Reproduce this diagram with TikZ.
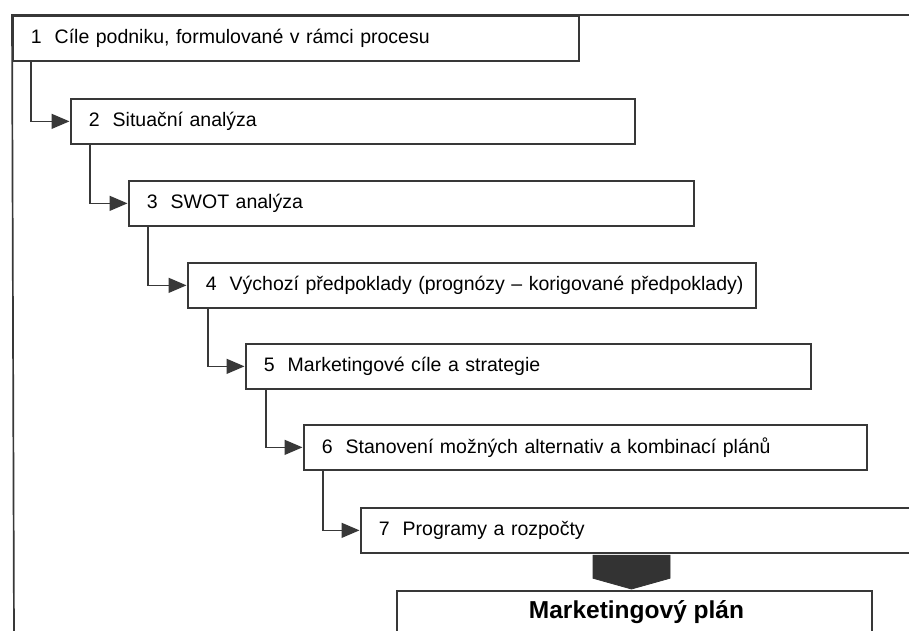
\documentclass[tikz,border=0pt]{standalone}
\usepackage{fontspec}
\setmainfont{Liberation Sans}
\usetikzlibrary{calc,arrows.meta}
\hfuzz=30pt
\begin{document}
\begin{tikzpicture}[x=1pt,y=-1pt,
  ink/.style={draw=black!78, line width=1.7pt},
  stepbox/.style={ink, rectangle, anchor=north west, minimum height=45pt,
    inner xsep=18pt, inner ysep=0pt, align=left, font=\fontsize{19.5}{22}\selectfont},
  conn/.style={ink, line width=1.5pt, -{Triangle[length=18pt,width=15pt]}, shorten >=0.5pt},
  blockarrow/.style={fill=black!80, draw=black!80, line width=0.8pt, line join=miter}]
  \useasboundingbox (0,0) rectangle (909,630);
  \clip (0,0) rectangle (909,630);
  \fill[white] (0,0) rectangle (909,630);

  % outer frame: rule along the top and down the left side
  \coordinate (frameTL) at (12,15);
  \coordinate (frameTR) at (915,15);
  \coordinate (frameBL) at (14,640);
  \draw[ink] (frameTR) -- (frameTL) -- (frameBL);

  % the seven steps of the plan
  \node[stepbox, text width=530pt] (b1) at (12,15)  {\mbox{1\hspace{13pt}Cíle podniku, formulované v rámci procesu}};
  \node[stepbox, text width=528pt] (b2) at (70,98)  {\mbox{2\hspace{13pt}Situační analýza}};
  \node[stepbox, text width=529pt] (b3) at (128,180) {\mbox{3\hspace{13pt}SWOT analýza}};
  \node[stepbox, text width=532pt] (b4) at (187,262) {\mbox{4\hspace{13pt}Výchozí předpoklady (prognózy – korigované předpoklady)}};
  \node[stepbox, text width=529pt] (b5) at (245,343) {\mbox{5\hspace{13pt}Marketingové cíle a strategie}};
  \node[stepbox, text width=527pt] (b6) at (303,424) {\mbox{6\hspace{13pt}Stanovení možných alternativ a kombinací plánů}};
  \node[stepbox, text width=560pt] (b7) at (360,507) {\mbox{7\hspace{13pt}Programy a rozpočty}};

  % result box
  \node[ink, rectangle, anchor=north, minimum width=475pt, minimum height=50pt] (plan) at (634.5,590) {};
  \node[anchor=base, inner sep=0pt, font=\fontsize{24.5}{28}\selectfont\bfseries] (plantext) at (636.5,618) {Marketingový plán};

  % step-down connectors
  \draw[conn] ([xshift=19pt]b1.south west) |- (b2.west);
  \draw[conn] ([xshift=20pt]b2.south west) |- (b3.west);
  \draw[conn] ([xshift=20pt]b3.south west) |- (b4.west);
  \draw[conn] ([xshift=21pt]b4.south west) |- (b5.west);
  \draw[conn] ([xshift=21pt]b5.south west) |- (b6.west);
  \draw[conn] ([xshift=20pt]b6.south west) |- (b7.west);

  % block arrow from the last step into the plan
  \coordinate (tip) at ([xshift=-3pt]plan.north);
  \fill[blockarrow] ($(b7.south -| tip)+(-38.5,1.5)$) -- ++(77,0) -- ++(0,23)
    -- ($(tip)+(0,-1)$) -- ($(b7.south -| tip)+(-38.5,24.5)$) -- cycle;
\end{tikzpicture}
\end{document}
